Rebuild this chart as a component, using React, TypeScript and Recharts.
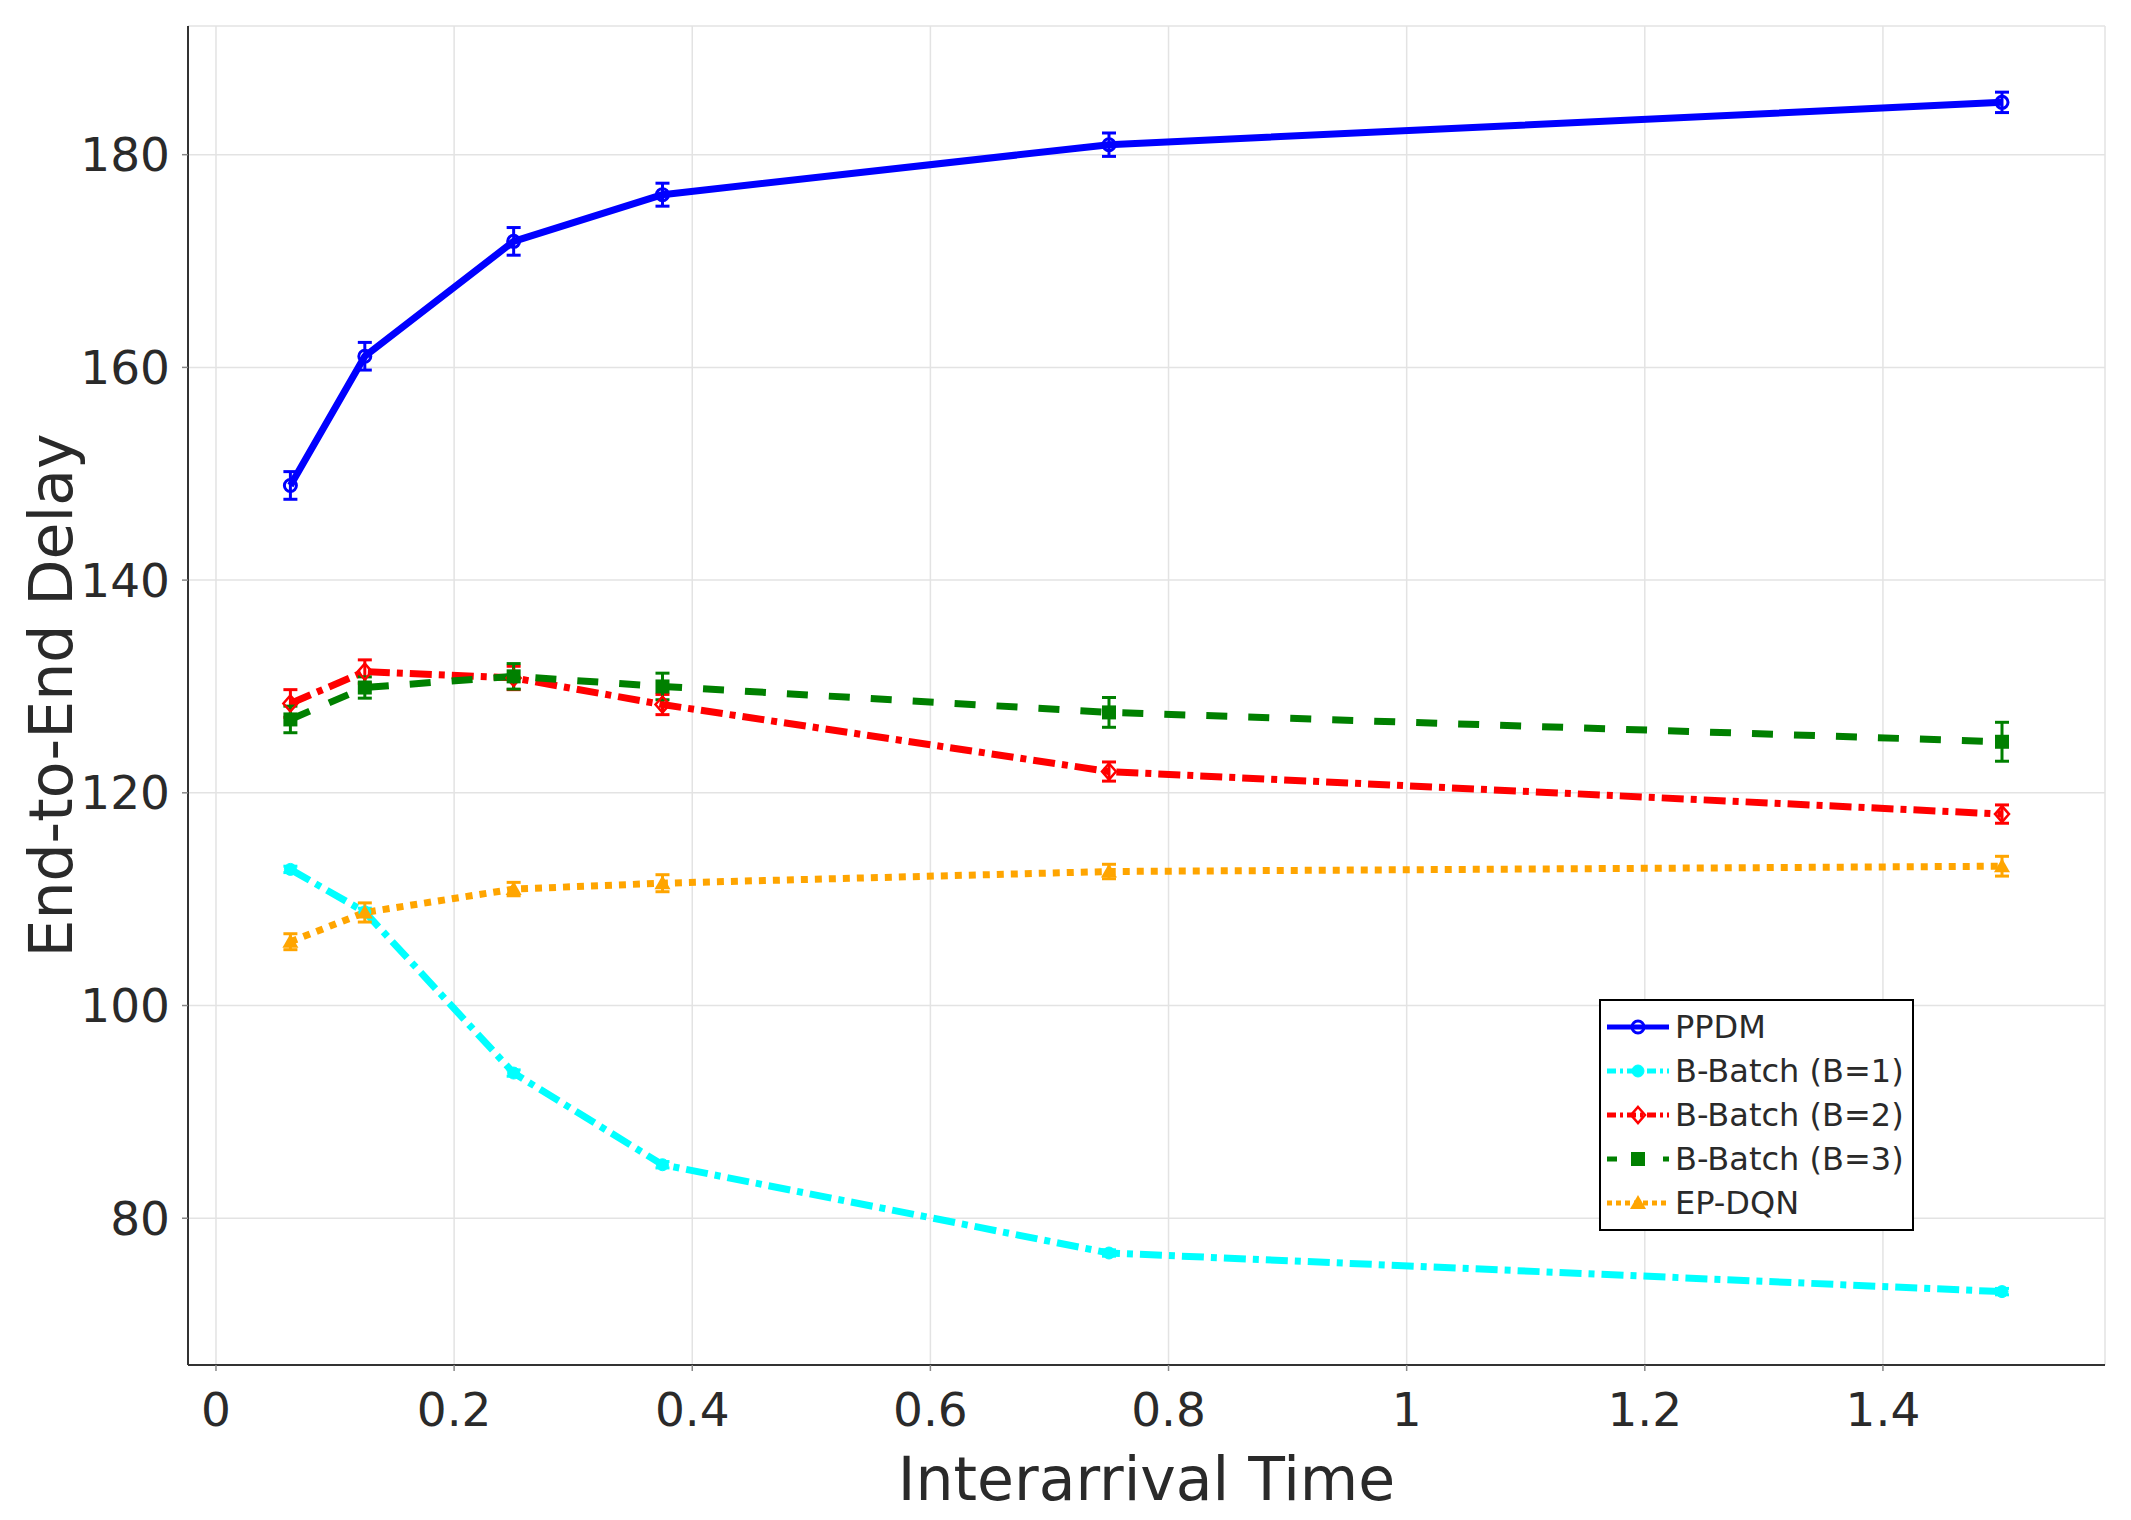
import React from "react";
import {
  LineChart,
  Line,
  XAxis,
  YAxis,
  CartesianGrid,
  Legend,
  ErrorBar,
} from "recharts";

// interarrival times on the x axis
const interarrival = [0.0625, 0.125, 0.25, 0.375, 0.75, 1.5];

// mean end-to-end delay per method, with the half-width of its error bar
const ppdm = [148.9, 161.05, 171.85, 176.24, 180.94, 184.92];
const ppdmErr = [1.3, 1.3, 1.3, 1.08, 1.1, 0.96];
const bBatch1 = [112.8, 108.8, 93.65, 85.03, 76.73, 73.1];
const bBatch1Err = [0.3, 0.35, 0.3, 0.3, 0.3, 0.3];
const bBatch2 = [128.4, 131.4, 130.8, 128.3, 122.0, 118.0];
const bBatch2Err = [1.3, 1.1, 1.1, 0.95, 0.9, 0.86];
const bBatch3 = [126.9, 129.9, 130.95, 130.0, 127.56, 124.8];
const bBatch3Err = [1.25, 1.0, 1.2, 1.25, 1.4, 1.83];
const epDqn = [106.0, 108.75, 110.95, 111.5, 112.6, 113.1];
const epDqnErr = [0.75, 0.9, 0.63, 0.8, 0.68, 0.93];

const xTicks = [0, 0.2, 0.4, 0.6, 0.8, 1, 1.2, 1.4];
const yTicks = [80, 100, 120, 140, 160, 180];

const data = interarrival.map((x, i) => ({
  x,
  ppdm: ppdm[i],
  ppdmErr: ppdmErr[i],
  b1: bBatch1[i],
  b1Err: bBatch1Err[i],
  b2: bBatch2[i],
  b2Err: bBatch2Err[i],
  b3: bBatch3[i],
  b3Err: bBatch3Err[i],
  ep: epDqn[i],
  epErr: epDqnErr[i],
}));

const FONT = "'DejaVu Sans', Verdana, sans-serif";
const TEXT = "#2a2a2a";

const series = [
  { key: "ppdm", name: "PPDM", color: "#0000ff", dash: undefined, legendDash: undefined, marker: "circle-open" },
  { key: "b1", name: "B-Batch (B=1)", color: "#00ffff", dash: "22 7 6 7", legendDash: "9 4 3 4", marker: "circle" },
  { key: "b2", name: "B-Batch (B=2)", color: "#ff0000", dash: "22 7 6 7", legendDash: "9 4 3 4", marker: "diamond-open" },
  { key: "b3", name: "B-Batch (B=3)", color: "#008000", dash: "21 21", legendDash: "10 18", marker: "square" },
  { key: "ep", name: "EP-DQN", color: "#ffa500", dash: "7 7", legendDash: "5 4", marker: "triangle" },
];

const Marker = ({ shape, cx, cy, color }: any) => {
  if (cx == null || cy == null) return null;
  switch (shape) {
    case "circle-open":
      return <circle cx={cx} cy={cy} r={6} fill="none" stroke={color} strokeWidth={3} />;
    case "circle":
      return <circle cx={cx} cy={cy} r={6} fill={color} stroke={color} strokeWidth={1} />;
    case "diamond-open":
      return (
        <path
          d={`M${cx},${cy - 8} L${cx + 7},${cy} L${cx},${cy + 8} L${cx - 7},${cy} Z`}
          fill="none"
          stroke={color}
          strokeWidth={2.5}
        />
      );
    case "square":
      return <rect x={cx - 7} y={cy - 7} width={14} height={14} fill={color} />;
    case "triangle":
      return (
        <path d={`M${cx},${cy - 8} L${cx + 8},${cy + 6} L${cx - 8},${cy + 6} Z`} fill={color} />
      );
    default:
      return null;
  }
};

const LegendBox = () => (
  <div
    style={{
      border: "2px solid #000",
      background: "#fff",
      padding: "4px 8px 4px 4px",
      fontFamily: FONT,
      fontSize: 32,
      color: TEXT,
    }}
  >
    {series.map((s) => (
      <div key={s.key} style={{ display: "flex", alignItems: "center", height: 44 }}>
        <svg width={66} height={24} style={{ marginRight: 4 }}>
          <line
            x1={2}
            y1={12}
            x2={64}
            y2={12}
            stroke={s.color}
            strokeWidth={5}
            strokeDasharray={s.legendDash}
          />
          <Marker shape={s.marker} cx={33} cy={12} color={s.color} />
        </svg>
        <span style={{ whiteSpace: "nowrap" }}>{s.name}</span>
      </div>
    ))}
  </div>
);

export default function App() {
  return (
    <div style={{ position: "absolute", left: 0, top: 0, width: 2131, height: 1520, background: "#fff" }}>
      <LineChart
        width={2131}
        height={1520}
        data={data}
        margin={{ top: 26, right: 26, left: 0, bottom: 0 }}
      >
        <CartesianGrid stroke="#e3e3e3" strokeWidth={1.5} />
        <XAxis
          dataKey="x"
          type="number"
          domain={[-0.0235, 1.5865]}
          ticks={xTicks}
          allowDataOverflow
          height={155}
          tickSize={6}
          tickMargin={22}
          axisLine={{ stroke: "#333", strokeWidth: 2 }}
          tickLine={{ stroke: "#888", strokeWidth: 1.5 }}
          tick={{ fontSize: 47, fill: TEXT, fontFamily: FONT }}
          tickFormatter={(v: number) => String(v)}
          label={{
            content: ({ viewBox }: any) => (
              <text
                x={viewBox.x + viewBox.width / 2}
                y={viewBox.y + 135}
                textAnchor="middle"
                fontSize={60}
                fill={TEXT}
                fontFamily={FONT}
              >
                Interarrival Time
              </text>
            ),
          }}
        />
        <YAxis
          type="number"
          domain={[66.2, 192.1]}
          ticks={yTicks}
          allowDataOverflow
          width={188}
          tickSize={6}
          tickMargin={12}
          axisLine={{ stroke: "#333", strokeWidth: 2 }}
          tickLine={{ stroke: "#888", strokeWidth: 1.5 }}
          tick={{ fontSize: 47, fill: TEXT, fontFamily: FONT }}
          label={{
            content: ({ viewBox }: any) => {
              const cx = viewBox.x + 72;
              const cy = viewBox.y + viewBox.height / 2;
              return (
                <text
                  x={cx}
                  y={cy}
                  transform={`rotate(-90, ${cx}, ${cy})`}
                  textAnchor="middle"
                  fontSize={60}
                  fill={TEXT}
                  fontFamily={FONT}
                >
                  End-to-End Delay
                </text>
              );
            },
          }}
        />
        {series.map((s) => (
          <Line
            key={s.key}
            type="linear"
            dataKey={s.key}
            name={s.name}
            stroke={s.color}
            strokeWidth={7}
            strokeDasharray={s.dash}
            strokeLinejoin="round"
            isAnimationActive={false}
            activeDot={false}
            dot={(p: any) => (
              <Marker key={`${s.key}-${p.index}`} shape={s.marker} cx={p.cx} cy={p.cy} color={s.color} />
            )}
          >
            <ErrorBar
              dataKey={`${s.key}Err`}
              direction="y"
              width={7}
              strokeWidth={3}
              stroke={s.color}
            />
          </Line>
        ))}
        <Legend
          layout="vertical"
          verticalAlign="middle"
          align="center"
          content={() => <LegendBox />}
          wrapperStyle={{ left: 1599, top: 999, width: "auto", height: "auto" }}
        />
      </LineChart>
    </div>
  );
}
